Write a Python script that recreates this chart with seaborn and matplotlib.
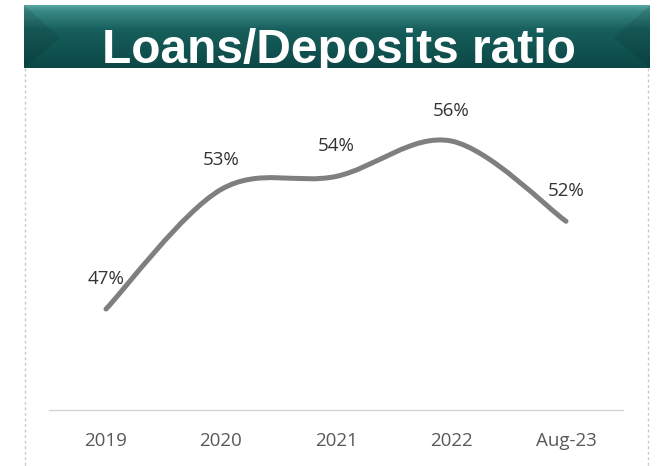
import numpy as np
import matplotlib
matplotlib.use("Agg")
import matplotlib.pyplot as plt
import seaborn as sns
import pandas as pd
from matplotlib.path import Path
from matplotlib.patches import PathPatch, Polygon
from matplotlib.lines import Line2D
from matplotlib.colors import LinearSegmentedColormap

# ---- data ----
categories = ["2019", "2020", "2021", "2022", "Aug-23"]
ratio_pct = [47.0, 53.4, 54.1, 56.0, 51.7]
title = "Loans/Deposits ratio"

W, H = 657, 466
sns.set_theme(style="white")
plt.rcParams['font.family'] = ['Open Sans', 'DejaVu Sans']

fig = plt.figure(figsize=(W / 100, H / 100), dpi=100)
fig.patch.set_facecolor('white')


def fx(px):
    return px / W


def fy(py):
    return 1 - py / H


# ---- banner ----
bl, br, bt, bb = 24, 650, 5, 68
bax = fig.add_axes([fx(bl), fy(bb), fx(br) - fx(bl), fy(bt) - fy(bb)])
bax.set_xlim(bl, br)
bax.set_ylim(bb, bt)
cmap = LinearSegmentedColormap.from_list(
    'banner', [(0, '#62aeab'), (0.10, '#3a8986'), (0.40, '#175f5c'), (1, '#0b4846')])
grad = np.linspace(0, 1, 200).reshape(-1, 1)
bax.imshow(grad, cmap=cmap, aspect='auto', extent=(bl, br, bb, bt))
bax.add_patch(Polygon([(bl, bt), (60, 38), (bl, bb)], closed=True, fc='black', alpha=0.09, lw=0))
bax.add_patch(Polygon([(br, bt), (614, 38), (br, bb)], closed=True, fc='black', alpha=0.09, lw=0))
bax.axis('off')

fig.text(fx(339), fy(63), title, ha='center', va='baseline', color='white',
         fontsize=34.5, fontweight='bold', family=['Liberation Sans', 'DejaVu Sans'])

# ---- chart area border ----
for xp in (25, 648):
    fig.add_artist(Line2D([fx(xp), fx(xp)], [fy(bb), 0], color='#c8c8c8', lw=1,
                          ls=(0, (2, 2))))

# ---- main axes ----
ax = fig.add_axes([fx(48.5), fy(410), 575 / W, 320 / H])
df = pd.DataFrame({"cat": np.arange(len(categories)), "val": ratio_pct})
sns.lineplot(data=df, x="cat", y="val", ax=ax, lw=0, color='#7f7f7f')

# smooth (Excel-style) line through the data points via cubic Bezier segments
pts = np.column_stack([df["cat"].to_numpy(dtype=float), df["val"].to_numpy(dtype=float)])
n = len(pts)
verts = [tuple(pts[0])]
codes = [Path.MOVETO]
for i in range(n - 1):
    p0 = pts[max(i - 1, 0)]
    p1 = pts[i]
    p2 = pts[i + 1]
    p3 = pts[min(i + 2, n - 1)]
    c1 = p1 + (p2 - p0) / 6
    c2 = p2 - (p3 - p1) / 6
    verts += [tuple(c1), tuple(c2), tuple(p2)]
    codes += [Path.CURVE4] * 3
ax.add_patch(PathPatch(Path(verts, codes), fc='none', ec='#7f7f7f', lw=3.6,
                       capstyle='round', joinstyle='round'))

for i, v in enumerate(ratio_pct):
    ax.annotate(f"{v:.0f}%", (i, v), xytext=(0, 21.6), textcoords='offset points',
                ha='center', va='center', fontsize=13.5, color='#333333')

ax.set_xlim(-0.5, len(categories) - 0.5)
ax.set_ylim(41.59, 58.73)
ax.set_xticks(range(len(categories)))
ax.set_xticklabels(categories)
ax.set_yticks([])
ax.set_xlabel("")
ax.set_ylabel("")
ax.tick_params(axis='x', length=0, pad=15.8, labelsize=13.5, labelcolor='#595959')
for s in ('top', 'left', 'right'):
    ax.spines[s].set_visible(False)
ax.spines['bottom'].set_color('#d4d4d4')
ax.spines['bottom'].set_linewidth(1)
ax.spines['bottom'].set_linestyle((0, (1, 1)))
ax.set_facecolor('none')

fig.savefig('out.png', dpi=100, facecolor='white')
